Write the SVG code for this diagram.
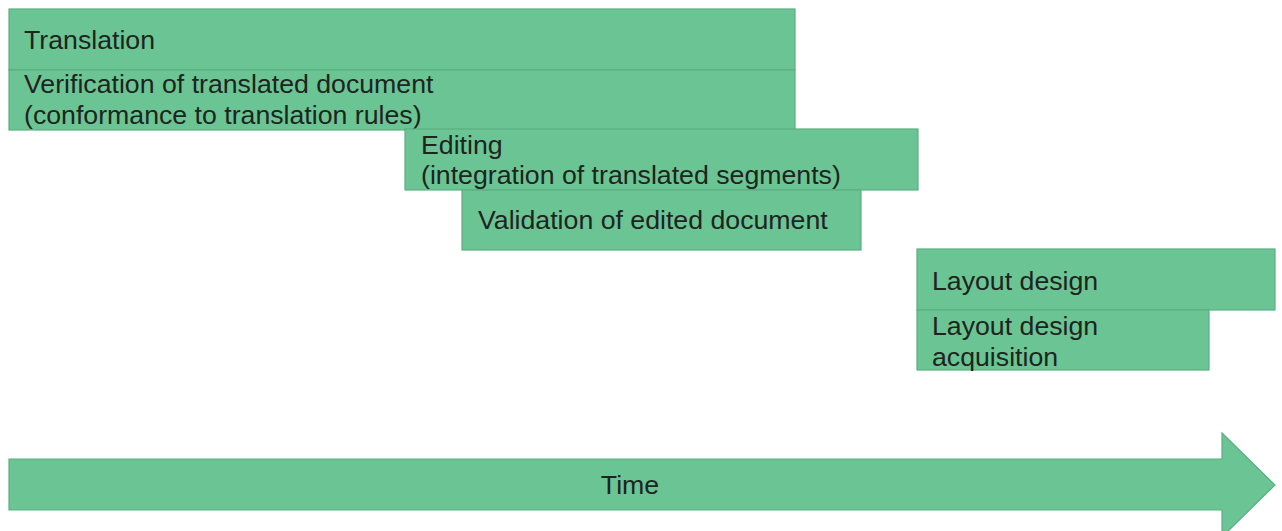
<svg xmlns="http://www.w3.org/2000/svg" width="1282" height="531" viewBox="0 0 1282 531">
<style>
.box{fill:#6bc493;stroke:#5aaf80;stroke-width:1.2}
.t{font-family:"Liberation Sans",Arial,sans-serif;font-size:26.7px;fill:#1e2420}
</style>
<rect width="1282" height="531" fill="#ffffff"/>
<g id="translation"><rect class="box" x="9" y="9" width="786" height="61"/><text class="t" x="24" y="49">Translation</text></g>
<g id="verification"><rect class="box" x="9" y="70" width="786" height="60"/><text class="t" x="24" y="93">Verification of translated document</text><text class="t" x="24" y="124">(conformance to translation rules)</text></g>
<g id="editing"><rect class="box" x="405" y="129" width="513" height="61"/><text class="t" x="421" y="154">Editing</text><text class="t" x="421" y="184">(integration of translated segments)</text></g>
<g id="validation"><rect class="box" x="462" y="190" width="399" height="60"/><text class="t" x="478" y="229">Validation of edited document</text></g>
<g id="layout"><rect class="box" x="917" y="249" width="358" height="61"/><text class="t" x="932" y="290">Layout design</text></g>
<g id="acquisition"><rect class="box" x="917" y="310" width="292" height="60"/><text class="t" x="932" y="335">Layout design</text><text class="t" x="932" y="366">acquisition</text></g>
<g id="connectors"><g id="time"><path class="box" d="M9 459 H1222 V433 L1275 485 L1222 537 V510 H9 Z"/><text class="t" x="630" y="494" text-anchor="middle">Time</text></g></g>
</svg>
